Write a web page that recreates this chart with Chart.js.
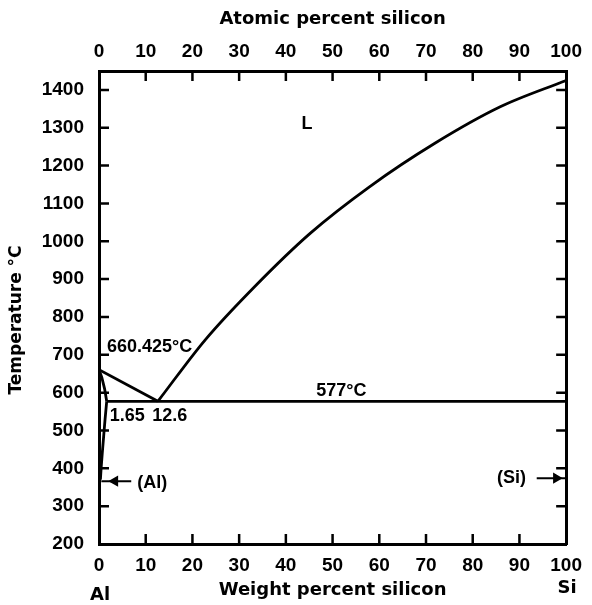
<!DOCTYPE html>
<html>
<head>
<meta charset="utf-8">
<script src="https://cdn.jsdelivr.net/npm/chart.js@4.4.1/dist/chart.umd.min.js"></script>
<style>
  html, body { margin: 0; padding: 0; background: #fff; }
  #wrap { width: 592px; height: 605px; }
</style>
</head>
<body>
<div id="wrap"><canvas id="phase" width="592" height="605"></canvas></div>
<script>
// Al-Si phase diagram, weight percent silicon vs temperature

const wtTicks = [0, 10, 20, 30, 40, 50, 60, 70, 80, 90, 100];
const atTicks = [0, 10, 20, 30, 40, 50, 60, 70, 80, 90, 100];
const tempTicks = [200, 300, 400, 500, 600, 700, 800, 900, 1000, 1100, 1200, 1300, 1400];

// liquidus, Al side
const liqAlWt = [0, 12.6];
const liqAlT = [660.425, 577];

// liquidus, Si side
const liqSiWt = [12.6, 22.7, 33.3, 45.2, 57.9, 71.9, 86.0, 100];
const liqSiT = [577, 739, 880, 1021, 1144, 1259, 1356, 1425];

// solidus of (Al)
const solWt = [0, 0.6, 1.2, 1.65];
const solT = [660.425, 640, 610, 577];

// solvus of (Al)
const solvWt = [1.65, 1.3, 1.0, 0.7, 0.45, 0.3];
const solvT = [577, 530, 485, 440, 400, 370];

// eutectic line
const eutWt = [1.65, 100];
const eutT = [577, 577];

// arrows for the (Al) and (Si) terminal solutions
const alArrowWt = [0.5, 3.4, 6.9];
const alArrowT = [366, 366, 366];
const siArrowWt = [93.7, 97.9, 99.8];
const siArrowT = [374, 374, 374];

// text labels placed in data units
const notes = [
  ['L', 44.5, 1311, 'center'],
  ['577°C', 51.9, 605, 'center'],
  ['660.425°C', 1.7, 720, 'left'],
  ['1.65', 2.3, 538, 'left'],
  ['12.6', 11.4, 538, 'left'],
  ['(Al)', 8.2, 362, 'left'],
  ['(Si)', 85.2, 374, 'left']
];

const pts = (xs, ys) => xs.map((x, i) => ({ x: x, y: ys[i] }));

function curve(xs, ys, extra) {
  return Object.assign({
    data: pts(xs, ys),
    showLine: true,
    borderColor: '#000',
    borderWidth: 2.8,
    pointRadius: 0,
    tension: 0,
    xAxisID: 'x',
    yAxisID: 'y'
  }, extra || {});
}

function arrow(xs, ys, rot) {
  return curve(xs, ys, {
    borderWidth: 2,
    pointStyle: 'triangle',
    rotation: rot,
    pointRadius: c => (c.dataIndex === 1 ? 4.5 : 0),
    pointBackgroundColor: '#000',
    pointBorderColor: '#000'
  });
}

const innerTicks = {
  id: 'innerTicks',
  afterDatasetsDraw(chart) {
    const { ctx, chartArea: a, scales } = chart;
    ctx.save();
    ctx.strokeStyle = '#000';
    ctx.lineWidth = 2.5;
    ctx.beginPath();
    wtTicks.slice(1, -1).forEach(v => {
      const px = scales.x.getPixelForValue(v);
      ctx.moveTo(px, a.bottom);
      ctx.lineTo(px, a.bottom - 10);
    });
    atTicks.slice(1, -1).forEach(v => {
      const px = scales.x2.getPixelForValue(v);
      ctx.moveTo(px, a.top);
      ctx.lineTo(px, a.top + 10);
    });
    tempTicks.slice(1).forEach(v => {
      const py = scales.y.getPixelForValue(v);
      ctx.moveTo(a.left, py);
      ctx.lineTo(a.left + 10, py);
      ctx.moveTo(a.right, py);
      ctx.lineTo(a.right - 10, py);
    });
    ctx.stroke();
    ctx.restore();
  }
};

const textLabels = {
  id: 'textLabels',
  afterDraw(chart) {
    const { ctx, chartArea: a, scales } = chart;
    ctx.save();
    ctx.fillStyle = '#000';
    ctx.textBaseline = 'middle';
    ctx.font = 'bold 18px "Liberation Sans", Arial, sans-serif';
    notes.forEach(n => {
      ctx.textAlign = n[3];
      ctx.fillText(n[0], scales.x.getPixelForValue(n[1]), scales.y.getPixelForValue(n[2]));
    });

    // element names under the bottom axis ends
    ctx.font = 'bold 18px "DejaVu Sans", sans-serif';
    ctx.textAlign = 'center';
    ctx.fillText('Al', scales.x.getPixelForValue(0) + 1, 595);
    ctx.fillText('Si', scales.x.getPixelForValue(100) + 1, 588);

    // y axis title
    ctx.font = 'bold 17px "DejaVu Sans", sans-serif';
    ctx.translate(17, 320);
    ctx.rotate(-Math.PI / 2);
    ctx.fillText('Temperature °C', 0, 0);
    ctx.restore();
  }
};

const tickFont = { family: '"Liberation Sans", Arial, sans-serif', size: 19, weight: 'bold' };
const titleFont = { family: '"DejaVu Sans", sans-serif', size: 18, weight: 'bold' };
const frame = { display: true, color: '#000', width: 3 };

new Chart(document.getElementById('phase'), {
  type: 'scatter',
  data: {
    datasets: [
      curve(liqAlWt, liqAlT),
      curve(liqSiWt, liqSiT, { cubicInterpolationMode: 'monotone' }),
      curve(solWt, solT),
      curve(solvWt, solvT),
      curve(eutWt, eutT),
      arrow(alArrowWt, alArrowT, -90),
      arrow(siArrowWt, siArrowT, 90)
    ]
  },
  options: {
    responsive: false,
    animation: false,
    events: [],
    layout: { padding: 0 },
    plugins: { legend: { display: false }, tooltip: { enabled: false } },
    scales: {
      x: {
        type: 'linear', position: 'bottom', min: 0, max: 100,
        afterBuildTicks: s => { s.ticks = wtTicks.map(v => ({ value: v })); },
        afterFit: s => { s.height = 61; },
        grid: { display: false, drawTicks: false },
        border: frame,
        ticks: { color: '#000', font: tickFont, padding: 10, maxRotation: 0, callback: v => String(v) },
        title: { display: true, text: 'Weight percent silicon', color: '#000', font: titleFont, padding: { top: 0, bottom: 4 } }
      },
      x2: {
        type: 'linear', position: 'top', min: 0, max: 100,
        afterBuildTicks: s => { s.ticks = atTicks.map(v => ({ value: v })); },
        afterFit: s => { s.height = 71; },
        grid: { display: false, drawTicks: false },
        border: frame,
        ticks: { color: '#000', font: tickFont, padding: 8, maxRotation: 0, callback: v => String(v) },
        title: { display: true, text: 'Atomic percent silicon', color: '#000', font: titleFont, padding: { top: 9, bottom: 0 } }
      },
      y: {
        type: 'linear', position: 'left', min: 200, max: 1450,
        afterBuildTicks: s => { s.ticks = tempTicks.map(v => ({ value: v })); },
        afterFit: s => { s.width = 99; },
        grid: { display: false, drawTicks: false },
        border: frame,
        ticks: { color: '#000', font: tickFont, padding: 15, callback: v => String(v) }
      },
      yR: {
        type: 'linear', position: 'right', min: 200, max: 1450,
        afterFit: s => { s.width = 19; },
        grid: { display: false, drawTicks: false },
        border: frame,
        ticks: { display: false }
      }
    }
  },
  plugins: [innerTicks, textLabels]
});
</script>
</body>
</html>
